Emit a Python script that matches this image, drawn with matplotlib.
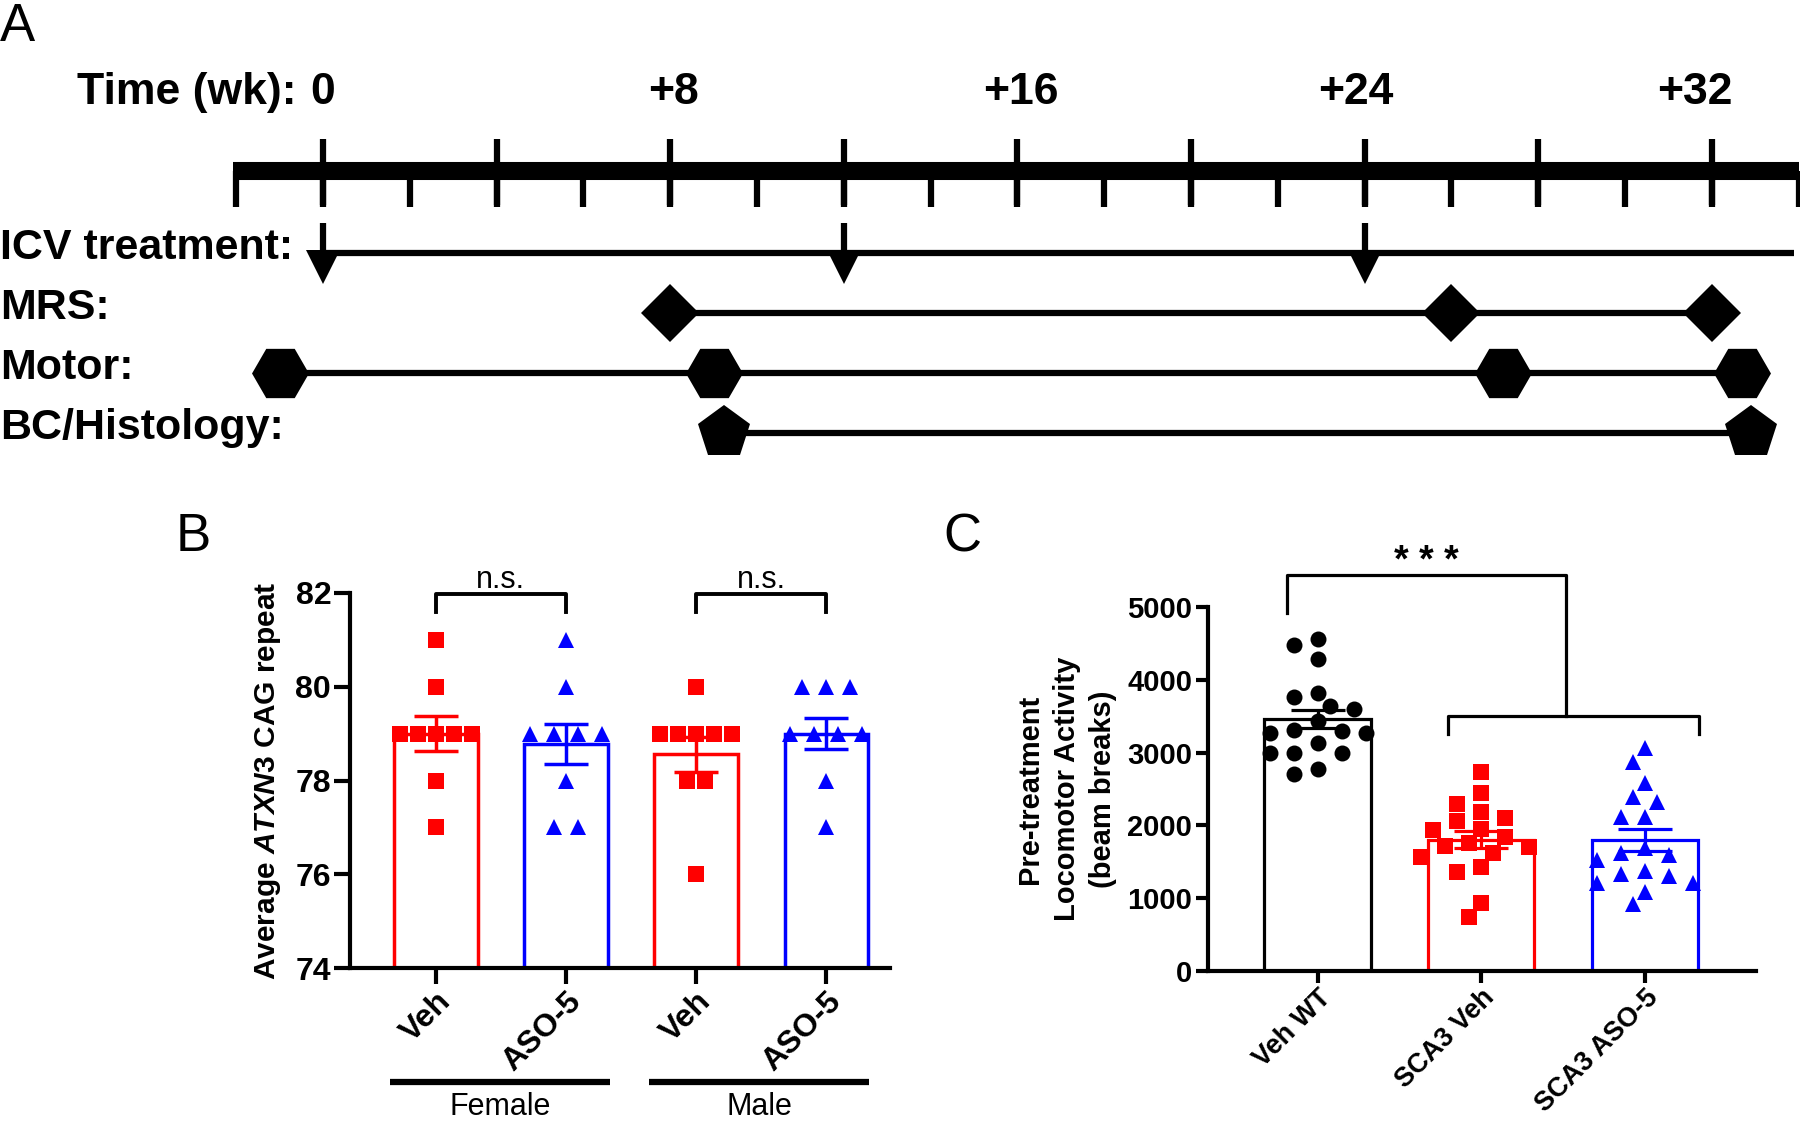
import numpy as np
import matplotlib.pyplot as plt

plt.rcParams['font.family'] = ['Liberation Sans', 'DejaVu Sans']
plt.rcParams['mathtext.fontset'] = 'custom'
plt.rcParams['mathtext.rm'] = 'Liberation Sans:bold'
plt.rcParams['mathtext.it'] = 'Liberation Sans:italic:bold'

# ---- Panel A: study timeline (weeks) ----
time_label_weeks = [0, 8.07, 16.08, 23.8, 31.6]
time_labels = ['0', '+8', '+16', '+24', '+32']
icv_weeks = [0, 12, 24]
mrs_weeks = [8, 26, 32]
motor_weeks = [-1, 9, 27.2, 32.7]
bc_weeks = [9.25, 32.9]
row_names = ['ICV treatment:', 'MRS:', 'Motor:', 'BC/Histology:']

# ---- Panel B: average ATXN3 CAG repeat ----
b_labels = ['Veh', 'ASO-5', 'Veh', 'ASO-5']
b_sex = ['Female', 'Male']
b_female_veh = [81, 80, 79, 79, 79, 79, 79, 78, 77]
b_female_aso = [81, 80, 79, 79, 79, 79, 78, 77, 77]
b_male_veh = [80, 79, 79, 79, 79, 79, 78, 78, 76]
b_male_aso = [80, 80, 80, 79, 79, 79, 79, 78, 77]

# ---- Panel C: pre-treatment locomotor activity ----
c_labels = ['Veh WT', 'SCA3 Veh', 'SCA3 ASO-5']
c_veh_wt = [4560, 4480, 4280, 3815, 3760, 3640, 3595, 3440, 3310, 3300,
            3265, 3265, 3130, 3000, 2990, 2990, 2775, 2705]
c_sca3_veh = [2740, 2450, 2300, 2180, 2100, 2065, 1945, 1935, 1845, 1755,
              1720, 1710, 1615, 1570, 1435, 1365, 930, 745]
c_sca3_aso = [3060, 2875, 2585, 2395, 2325, 2120, 2120, 1685, 1615, 1595,
              1525, 1380, 1330, 1310, 1205, 1205, 1090, 920]

RED = '#FF0000'
BLUE = '#0000FF'


def spread_equal(vals, step):
    # spread identical values side by side, centred on the column
    vals = np.asarray(vals)
    offs = np.zeros(len(vals))
    for v in np.unique(vals):
        idx = np.where(vals == v)[0]
        offs[idx] = (np.arange(len(idx)) - (len(idx) - 1) / 2) * step
    return offs


def swarm(ax, xc, vals, diam_px, step):
    # greedy beeswarm in display space
    cand = [0.0]
    for k in range(1, 15):
        cand += [-k * step, k * step]
    placed = []
    offs = np.zeros(len(vals))
    for i in np.argsort(vals)[::-1]:
        for c in cand:
            p = ax.transData.transform((xc + c, vals[i]))
            if all(np.hypot(*(p - q)) >= diam_px for q in placed):
                break
        placed.append(p)
        offs[i] = c
    return offs


fig = plt.figure(figsize=(18, 11.21), dpi=100)

# ================= Panel A =================
axA = fig.add_axes([0, 1 - 470 / 1121, 1, 470 / 1121])
axA.set_xlim(-323 / 43.4, (1800 - 323) / 43.4)
axA.set_ylim(3.617, -4.217)
axA.axis('off')

tl_y = -1.37
axA.plot([-2.07, 34.0], [tl_y, tl_y], color='k', lw=13, solid_capstyle='butt')
for w in np.arange(-2, 35, 2):
    axA.plot([w, w], [tl_y, -0.77], color='k', lw=4.5, solid_capstyle='butt')
for w in np.arange(0, 33, 4):
    axA.plot([w, w], [-1.9, -0.8], color='k', lw=4.5, solid_capstyle='butt')

axA.text(-0.6, -2.68, 'Time (wk):', ha='right', va='center', fontsize=32, fontweight='bold')
for w, t in zip(time_label_weeks, time_labels):
    axA.text(w, -2.68, t, ha='center', va='center', fontsize=32, fontweight='bold')

# ICV treatment
axA.plot([icv_weeks[0], 33.9], [0, 0], color='k', lw=4.5, solid_capstyle='butt')
for w in icv_weeks:
    axA.plot([w, w], [-0.5, 0.05], color='k', lw=4.5, solid_capstyle='butt')
    axA.plot(w, 0.24, marker='v', ms=25, color='k', mew=0)
# MRS
axA.plot([mrs_weeks[0], mrs_weeks[-1]], [1, 1], color='k', lw=4.5)
axA.plot(mrs_weeks, [1] * len(mrs_weeks), 'D', ms=30, color='k', mew=0)
# Motor
axA.plot([motor_weeks[0], motor_weeks[-1]], [2, 2], color='k', lw=4.5)
axA.plot(motor_weeks, [2] * len(motor_weeks), 'H', ms=41, color='k', mew=0)
# BC / histology
axA.plot([bc_weeks[0], bc_weeks[-1]], [3, 3], color='k', lw=4.5)
axA.plot(bc_weeks, [3] * len(bc_weeks), 'p', ms=40, color='k', mew=0)

for lane, name in enumerate(row_names):
    axA.text(0.0, lane - 0.08, name, transform=axA.get_yaxis_transform(),
             ha='left', va='center', fontsize=31, fontweight='bold')

# ================= Panel B =================
axB = fig.add_axes([350 / 1800, 1 - 968 / 1121, 540 / 1800, 375 / 1121])
axB.set_xlim(-0.66, 3.49)
axB.set_ylim(74, 82)
b_data = [b_female_veh, b_female_aso, b_male_veh, b_male_aso]
b_colors = [RED, BLUE, RED, BLUE]
b_markers = ['s', '^', 's', '^']
xb = np.arange(len(b_data))
for i, d in enumerate(b_data):
    m = np.mean(d)
    se = np.std(d, ddof=1) / np.sqrt(len(d))
    axB.bar(i, m, width=0.64, color='white', edgecolor=b_colors[i], lw=2.5, zorder=1)
    step = 0.138 if b_markers[i] == 's' else 0.185
    axB.plot(i + spread_equal(d, step), d, b_markers[i], color=b_colors[i],
             ms=11.5, mew=0, zorder=3, clip_on=False)
    axB.errorbar(i, m, yerr=se, fmt='none', ecolor=b_colors[i], elinewidth=2.5,
                 capsize=15.5, capthick=2.5, zorder=4)

for s in ['top', 'right']:
    axB.spines[s].set_visible(False)
for s in ['left', 'bottom']:
    axB.spines[s].set_linewidth(3)
axB.tick_params(width=3, length=11.5, pad=2)
axB.set_yticks(np.arange(74, 83, 2), labels=[str(v) for v in range(74, 83, 2)],
               fontsize=23, fontweight='bold')
axB.set_xticks(xb, labels=b_labels, fontsize=23, fontweight='bold', rotation=45,
               ha='right', rotation_mode='anchor')
axB.text(-0.152, 0.5, 'Average $\\mathit{ATXN3}$ CAG repeat', transform=axB.transAxes,
         rotation=90, ha='center', va='center', fontsize=21.5, fontweight='bold')

for i, j in [(0, 1), (2, 3)]:
    axB.plot([i, i, j, j], [81.6, 81.98, 81.98, 81.6], color='k', lw=2.8, clip_on=False)
    axB.text((i + j) / 2, 82.1, 'n.s.', ha='center', va='baseline', fontsize=22)

trB = axB.get_xaxis_transform()
for (x0, x1), sex in zip([(-0.35, 1.34), (1.64, 3.33)], b_sex):
    axB.plot([x0, x1], [-0.304, -0.304], color='k', lw=4.5, transform=trB,
             clip_on=False, solid_capstyle='butt')
    axB.text((x0 + x1) / 2, -0.37, sex, transform=trB, ha='center', va='center',
             fontsize=22)

# ================= Panel C =================
axC = fig.add_axes([1208 / 1800, 1 - 971 / 1121, 548 / 1800, 364 / 1121])
axC.set_xlim(-0.67, 2.68)
axC.set_ylim(0, 5000)
c_data = [c_veh_wt, c_sca3_veh, c_sca3_aso]
c_colors = ['black', RED, BLUE]
c_markers = ['o', 's', '^']
c_ms = [11.5, 11, 12]
xc = np.arange(len(c_data))
for i, d in enumerate(c_data):
    d = np.asarray(d)
    m = d.mean()
    se = d.std(ddof=1) / np.sqrt(len(d))
    axC.bar(i, m, width=0.65, color='white', edgecolor=c_colors[i], lw=2.3, zorder=1)
    offs = swarm(axC, i, d, 17, 0.0735)
    axC.plot(i + offs, d, c_markers[i], color=c_colors[i], ms=c_ms[i], mew=0,
             zorder=3, clip_on=False)
    axC.errorbar(i, m, yerr=se, fmt='none', ecolor=c_colors[i], elinewidth=2.3,
                 capsize=19.5, capthick=2.3, zorder=4)

for s in ['top', 'right']:
    axC.spines[s].set_visible(False)
for s in ['left', 'bottom']:
    axC.spines[s].set_linewidth(3)
axC.tick_params(width=3, length=8.5, pad=3)
axC.tick_params(axis='x', pad=1.5)
axC.set_yticks(np.arange(0, 5001, 1000), labels=[str(v) for v in range(0, 5001, 1000)],
               fontsize=21, fontweight='bold')
axC.set_xticks(xc, labels=c_labels, fontsize=19.5, fontweight='bold', rotation=45,
               ha='right', rotation_mode='anchor')
axC.text(-0.258, 0.5, 'Pre-treatment\nLocomotor Activity\n(beam breaks)',
         transform=axC.transAxes, rotation=90, ha='center', va='center',
         multialignment='center', fontsize=21, fontweight='bold', linespacing=1.4)

axC.plot([-0.19, -0.19, 1.52, 1.52], [4918, 5440, 5440, 3507], color='k', lw=2.3,
         clip_on=False)
axC.plot([0.80, 0.80, 2.33, 2.33], [3262, 3507, 3507, 3262], color='k', lw=2.3,
         clip_on=False)
axC.text(0.665, 5620, '* * *', ha='center', va='center', fontsize=27, fontweight='bold')

# panel letters
fig.text(0.0, 0.998, 'A', ha='left', va='top', fontsize=38)
fig.text(176 / 1800, 1 - 512 / 1121, 'B', ha='left', va='top', fontsize=38)
fig.text(943 / 1800, 1 - 512 / 1121, 'C', ha='left', va='top', fontsize=38)

fig.savefig('out.png', dpi=100)
